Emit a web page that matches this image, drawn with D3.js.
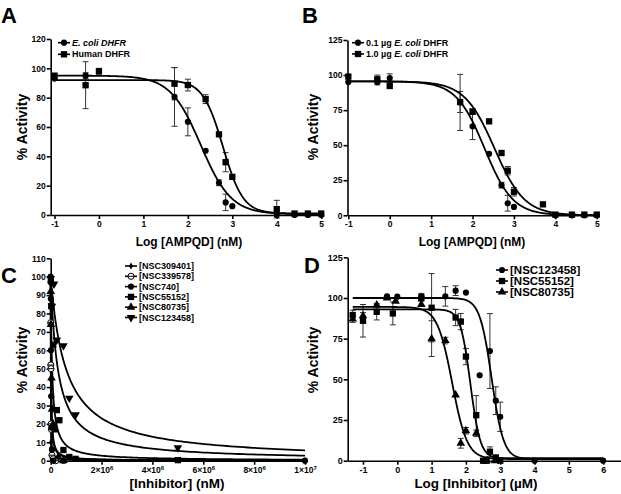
<!DOCTYPE html>
<html><head><meta charset="utf-8">
<script src="https://cdn.jsdelivr.net/npm/d3@7"></script>
<style>
body{margin:0;background:#fff}
svg{display:block}
text{font-family:"Liberation Sans",Arial,Helvetica,sans-serif;font-weight:bold;fill:#000}
</style>
</head><body>
<svg id="chart" width="621" height="494"></svg>
<script>
// ---------------- DATA ----------------
// Panel A
const aXTicks = [-1, 0, 1, 2, 3, 4, 5];
const aYTicks = [0, 20, 40, 60, 80, 100, 120];
const aEcoliX   = [-1, -0.3, 1.7, 2, 2.4, 2.7, 2.85, 3, 4, 4.4, 4.7, 5];
const aEcoliY   = [93, 95, 80.5, 63.5, 43.8, 22, 8.6, 6, 0, 0, 0, 0];
const aEcoliErr = [1, 2, 20, 9.5, 1, 2, 5.6, 1, 0, 0, 0, 0];
const aHumanX   = [-1, -0.3, 0, 1.7, 2, 2.4, 2.7, 2.85, 3, 4, 4.4, 4.7, 5];
const aHumanY   = [95, 88.5, 98, 89.5, 88.6, 79, 55, 36, 26, 4, 1, 1, 1];
const aHumanErr = [1, 16, 2, 11, 4, 3, 1, 6.5, 1, 6, 0, 0, 0];
const aEcoliFit = [95, 0.5, 2.29, 1.27];   // top, bottom, logIC50, hill
const aHumanFit = [92, 1, 2.79, 1.92];

// Panel B
const bXTicks = [-1, 0, 1, 2, 3, 4, 5];
const bYTicks = [0, 25, 50, 75, 100, 125];
const bLowX   = [-1, -0.3, 0, 1.7, 2, 2.4, 2.7, 2.85, 3, 4, 4.4, 4.7, 5];
const bLowY   = [95, 95, 97.9, 80.5, 63.5, 43.8, 21.5, 8.6, 6, 0, 0, 0, 0];
const bLowErr = [1, 2, 3, 20, 9.5, 1, 2, 5.6, 1, 0, 0, 0, 0];
const bHighX   = [-1, -0.3, 0, 1.7, 2, 2.4, 2.7, 2.85, 3, 3.7, 4, 4.4, 4.7, 5];
const bHighY   = [98.9, 97, 92.2, 80.8, 73.9, 67, 44.4, 31.8, 16.8, 7.8, 0.5, 0.5, 0.5, 0.5];
const bHighErr = [1, 3, 1, 7.5, 2, 1, 1, 3, 3, 1, 0, 0, 0, 0];
const bLowFit  = [95.5, 0, 2.29, 1.27];
const bHighFit = [95.5, 0, 2.53, 1.2];

// Panel C  (concentration in nM)
const cXTicks = [0, 2e6, 4e6, 6e6, 8e6, 1e7];
const cXTickLabels = [["0",""], ["2×10","6"], ["4×10","6"], ["6×10","6"], ["8×10","6"], ["1×10","7"]];
const cYTicks = [0, 10, 20, 30, 40, 50, 60, 70, 80, 90, 100, 110];
const c309401X = [1e3, 4e3, 1e4, 2e4, 4e4, 6e4, 1e5, 1e7];
const c309401Y = [96, 44, 10, 7, 3, 1, 0, 0];
const c339578X = [1e3, 5e3, 1e4, 2e4, 3e4, 5e4, 1e5, 2e5];
const c339578Y = [75, 52, 50, 20, 17, 3, 1, 0];
const c740X = [0, 2e3, 5e3, 1e4, 2e4, 3e4, 5e4, 1e5, 5e5, 1e7];
const c740Y = [100, 97, 88, 60, 35, 18, 6, 0, 0, 0];
const c55152X = [5e3, 2e4, 1e5, 2.4e5, 3.4e5, 5e5, 7.3e5, 9.8e5, 5e6];
const c55152Y = [98, 84, 63, 27.5, 22, 5.8, 2, 1, 0.3];
const c80735X = [2e3, 1e4, 3e4, 5e4, 1e5, 1.7e5, 3e5, 5e5];
const c80735Y = [92, 74, 45, 28, 20, 16.7, 2, 0];
const c123458X = [0, 5e4, 1.3e5, 2.4e5, 5e5, 7.3e5, 9.8e5, 5e6];
const c123458Y = [99, 84, 96, 65.6, 62.5, 34, 25, 7];
// fits: top, bottom, K (nM), hill
const c309401Fit = [100, 0, 4e3, 1];
const c339578Fit = [100, 0, 1.2e4, 1];
const c740Fit    = [100, 0, 1.4e4, 1];
const c55152Fit  = [100, 0, 2.8e5, 1];
const c80735Fit  = [100, 0, 5.6e4, 1];
const c123458Fit = [100, 0, 6.0e5, 1];

// Panel D (log µM)
const dXTicks = [-1, 0, 1, 2, 3, 4, 5, 6];
const dYTicks = [0, 25, 50, 75, 100, 125];
const d123458X   = [-0.3, 0, 0.7, 1.4, 1.7, 2, 2.4, 2.7, 2.87, 3, 4, 6];
const d123458Y   = [101, 100.8, 100.8, 101, 104.5, 103.3, 52.5, 67.4, 36.9, 27, 0, 0];
const d123458Err = [1, 1, 2, 6, 3, 1, 0, 23, 8.5, 9, 0, 0];
const d55152X   = [-1.3, -1, -0.6, -0.13, 0.7, 1, 1.7, 1.85, 2, 2.3, 2.5, 2.6, 2.7, 2.87, 3];
const d55152Y   = [89.5, 86, 91.5, 90.5, 100, 94, 88, 85.5, 64, 28, 0, 0, 5.5, 2, 0];
const d55152Err = [3, 10, 5, 7, 2, 21, 5, 5, 5, 12, 0, 0, 3, 1, 0];
const d80735X   = [-1.3, -1, -0.6, -0.3, -0.05, 0.7, 1, 1.4, 1.7, 1.85, 2, 2.3, 2.6, 2.85];
const d80735Y   = [87, 89, 95.7, 100, 98, 96, 75, 73.8, 40.4, 10.7, 18.4, 16.8, 0, 0];
const d80735Err = [2, 2, 1, 1, 1, 1, 11, 2, 1, 3, 2, 2, 0, 0];
const d123458Fit = [100, 1, 2.75, 2.5];
const d55152Fit  = [93, 1.5, 2.13, 3];
const d80735Fit  = [94.5, 1, 1.6, 2];

// ---------------- HELPERS ----------------
const svg = d3.select("#chart");
const logistic = (p, x) => p[1] + (p[0] - p[1]) / (1 + Math.pow(10, (x - p[2]) * p[3]));
const hyper = (p, x) => p[1] + (p[0] - p[1]) / (1 + Math.pow(x / p[2], p[3]));
const plain = d => String(d);

const SYM = {
  circle: d3.symbol().type(d3.symbolCircle).size(30),
  square: d3.symbol().type(d3.symbolSquare).size(40),
  tri: d3.symbol().type(d3.symbolTriangle).size(32),
  diamond: d3.symbol().type(d3.symbolDiamond).size(14),
  opencircle: d3.symbol().type(d3.symbolCircle).size(30)
};
function marker(g, kind, x, y) {
  const p = g.append("path").attr("d", SYM[kind === "tridown" ? "tri" : kind]())
    .attr("transform", `translate(${x},${y})` + (kind === "tridown" ? " rotate(180)" : ""));
  if (kind === "opencircle") {
    p.attr("fill", "#fff").attr("stroke", "#000").attr("stroke-width", 1);
    g.append("line").attr("x1", x - 3).attr("x2", x + 3).attr("y1", y).attr("y2", y)
      .attr("stroke", "#000").attr("stroke-width", 1);
  } else p.attr("fill", "#000");
}

function axes(g, x, y, xTicks, yTicks, fs) {
  const ax = g.append("g").attr("transform", `translate(0,${y.range()[0]})`)
    .call(d3.axisBottom(x).tickValues(xTicks).tickFormat(plain).tickSize(4).tickSizeOuter(0).tickPadding(2));
  const ay = g.append("g").attr("transform", `translate(${x.range()[0]},0)`)
    .call(d3.axisLeft(y).tickValues(yTicks).tickFormat(plain).tickSize(4).tickSizeOuter(0).tickPadding(1));
  [ax, ay].forEach(a => {
    a.selectAll("path,line").attr("stroke", "#000").attr("stroke-width", 1.6);
    a.selectAll("text").style("font-size", fs + "px").style("font-weight", "bold")
      .style("font-family", '"Liberation Sans",Arial,sans-serif');
  });
  return ax;
}

function errorBars(g, x, y, xs, ys, es) {
  xs.forEach((xv, i) => {
    const e = es[i]; if (!e || e < 1.5) return;
    const cx = x(xv), y1 = y(ys[i] - e), y2 = y(ys[i] + e);
    g.append("line").attr("x1", cx).attr("x2", cx).attr("y1", y1).attr("y2", y2);
    g.append("line").attr("x1", cx - 3).attr("x2", cx + 3).attr("y1", y1).attr("y2", y1);
    g.append("line").attr("x1", cx - 3).attr("x2", cx + 3).attr("y1", y2).attr("y2", y2);
  });
  g.selectAll("line").attr("stroke", "#333").attr("stroke-width", 1);
}

function curve(g, x, fn, samples) {
  const line = d3.line().x(d => x(d[0])).y(d => d[1]);
  g.append("path").attr("d", line(samples.map(s => [s, fn(s)])))
    .attr("fill", "none").attr("stroke", "#000").attr("stroke-width", 1.8);
}

function legendRow(g, x, y, kind, parts, fs) {
  g.append("line").attr("x1", x - 6).attr("x2", x + 6).attr("y1", y).attr("y2", y)
    .attr("stroke", "#000").attr("stroke-width", 1.6);
  marker(g, kind, x, y);
  const t = g.append("text").attr("x", x + 8).attr("y", y).attr("dy", "0.35em")
    .style("font-size", fs + "px");
  parts.forEach(p => t.append("tspan").text(p[0]).style("font-style", p[1] ? "italic" : "normal"));
}

function label(txt, x, y, fs, rot) {
  svg.append("text").attr("x", x).attr("y", y).attr("text-anchor", "middle")
    .attr("transform", rot ? `rotate(-90,${x},${y})` : null)
    .style("font-size", fs + "px").text(txt);
}

// ---------------- PANEL A ----------------
(function () {
  const g = svg.append("g");
  const x = d3.scaleLinear().domain([-1.085, 5.04]).range([50.7, 323]);
  const y = d3.scaleLinear().domain([0, 120]).range([215, 39]);
  axes(g, x, y, aXTicks, aYTicks, 8.5);
  errorBars(g.append("g"), x, y, aEcoliX, aEcoliY, aEcoliErr);
  errorBars(g.append("g"), x, y, aHumanX, aHumanY, aHumanErr);
  const s = d3.range(-1, 5.001, 0.02);
  curve(g, x, v => y(logistic(aEcoliFit, v)), s);
  curve(g, x, v => y(logistic(aHumanFit, v)), s);
  aEcoliX.forEach((v, i) => marker(g, "circle", x(v), y(aEcoliY[i])));
  aHumanX.forEach((v, i) => marker(g, "square", x(v), y(aHumanY[i])));
  legendRow(g, 64, 42.7, "circle", [["E. coli DHFR", true]], 9);
  legendRow(g, 64, 54.3, "square", [["Human DHFR", false]], 9);
})();

// ---------------- PANEL B ----------------
(function () {
  const g = svg.append("g");
  const x = d3.scaleLinear().domain([-1.02, 5.03]).range([347.5, 598]);
  const y = d3.scaleLinear().domain([0, 125]).range([215.3, 40]);
  axes(g, x, y, bXTicks, bYTicks, 8.5);
  errorBars(g.append("g"), x, y, bLowX, bLowY, bLowErr);
  errorBars(g.append("g"), x, y, bHighX, bHighY, bHighErr);
  const s = d3.range(-1, 5.001, 0.02);
  curve(g, x, v => y(logistic(bLowFit, v)), s);
  curve(g, x, v => y(logistic(bHighFit, v)), s);
  bLowX.forEach((v, i) => marker(g, "circle", x(v), y(bLowY[i])));
  bHighX.forEach((v, i) => marker(g, "square", x(v), y(bHighY[i])));
  legendRow(g, 358, 42.7, "circle", [["0.1 µg ", false], ["E. coli", true], [" DHFR", false]], 9);
  legendRow(g, 358, 54, "square", [["1.0 µg ", false], ["E. coli", true], [" DHFR", false]], 9);
})();

// ---------------- PANEL C ----------------
(function () {
  const g = svg.append("g");
  const x = d3.scaleLinear().domain([0, 1e7]).range([50.7, 305]);
  const y = d3.scaleLinear().domain([0, 110]).range([460.7, 258.3]);
  const ax = axes(g, x, y, cXTicks, cYTicks, 8.5);
  ax.selectAll(".tick text").each(function (d, i) {
    const t = d3.select(this).text("");
    t.append("tspan").text(cXTickLabels[i][0]);
    if (cXTickLabels[i][1]) t.append("tspan").attr("dy", "-0.45em").style("font-size", "6px").text(cXTickLabels[i][1]);
  });
  const s = [0].concat(d3.range(0, 7.0001, 0.01).map(e => Math.pow(10, e)));
  [c309401Fit, c339578Fit, c740Fit, c80735Fit, c55152Fit, c123458Fit]
    .forEach(p => curve(g, x, v => y(hyper(p, v)), s));
  c309401X.forEach((v, i) => marker(g, "diamond", x(v), y(c309401Y[i])));
  c339578X.forEach((v, i) => marker(g, "opencircle", x(v), y(c339578Y[i])));
  c740X.forEach((v, i) => marker(g, "circle", x(v), y(c740Y[i])));
  c55152X.forEach((v, i) => marker(g, "square", x(v), y(c55152Y[i])));
  c80735X.forEach((v, i) => marker(g, "tri", x(v), y(c80735Y[i])));
  c123458X.forEach((v, i) => marker(g, "tridown", x(v), y(c123458Y[i])));
  const names = ["[NSC309401]", "[NSC339578]", "[NSC740]", "[NSC55152]", "[NSC80735]", "[NSC123458]"];
  const kinds = ["diamond", "opencircle", "circle", "square", "tri", "tridown"];
  names.forEach((n, i) => legendRow(g, 131, 266 + i * 10.3, kinds[i], [[n, false]], 9));
})();

// ---------------- PANEL D ----------------
(function () {
  const g = svg.append("g");
  const x = d3.scaleLinear().domain([-1.446, 6.52]).range([347.7, 621]);
  const y = d3.scaleLinear().domain([0, 125]).range([460.7, 257.3]);
  axes(g, x, y, dXTicks, dYTicks, 9);
  errorBars(g.append("g"), x, y, d123458X, d123458Y, d123458Err);
  errorBars(g.append("g"), x, y, d55152X, d55152Y, d55152Err);
  errorBars(g.append("g"), x, y, d80735X, d80735Y, d80735Err);
  const s = d3.range(-1.3, 6.001, 0.02);
  curve(g, x, v => y(logistic(d123458Fit, v)), s);
  curve(g, x, v => y(logistic(d55152Fit, v)), s);
  curve(g, x, v => y(logistic(d80735Fit, v)), s);
  d123458X.forEach((v, i) => marker(g, "circle", x(v), y(d123458Y[i])));
  d55152X.forEach((v, i) => marker(g, "square", x(v), y(d55152Y[i])));
  d80735X.forEach((v, i) => marker(g, "tri", x(v), y(d80735Y[i])));
  legendRow(g, 502, 270, "circle", [["[NSC123458]", false]], 11.5);
  legendRow(g, 502, 281, "square", [["[NSC55152]", false]], 11.5);
  legendRow(g, 502, 292, "tri", [["[NSC80735]", false]], 11.5);
})();

// ---------------- LABELS ----------------
label("A", 9, 23, 22); label("B", 310, 23, 22);
label("C", 9, 283, 22); label("D", 312, 273, 22);
label("% Activity", 27, 127, 14, true);
label("% Activity", 318, 127, 14, true);
label("% Activity", 27, 360, 14, true);
label("% Activity", 318, 360, 14, true);
label("Log [AMPQD] (nM)", 189, 246, 12);
label("Log [AMPQD] (nM)", 472, 246, 12);
label("[Inhibitor] (nM)", 177, 488, 13.5);
label("Log [Inhibitor] (µM)", 476, 488, 13.5);
</script>
</body></html>
